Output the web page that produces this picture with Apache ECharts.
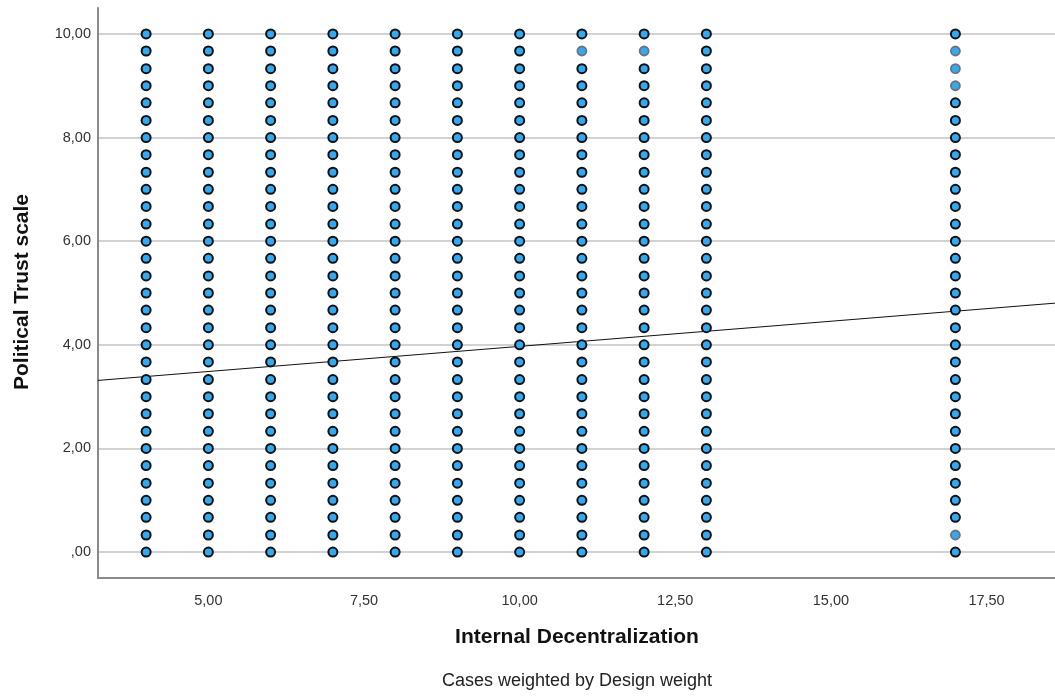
<!DOCTYPE html>
<html>
<head>
<meta charset="utf-8">
<script src="https://cdn.jsdelivr.net/npm/echarts@6/dist/echarts.min.js"></script>
<style>
  html, body { margin: 0; padding: 0; background: #fff; }
  #chart { width: 1055px; height: 700px; }
</style>
</head>
<body>
<div id="chart"></div>
<script>
// Observed values of Internal Decentralization
const decentralization = [4, 5, 6, 7, 8, 9, 10, 11, 12, 13, 17];
// Observed values of the Political Trust scale
const trustLevels = [0, 0.33, 0.67, 1, 1.33, 1.67, 2, 2.33, 2.67, 3, 3.33, 3.67, 4, 4.33, 4.67, 5,
  5.33, 5.67, 6, 6.33, 6.67, 7, 7.33, 7.67, 8, 8.33, 8.67, 9, 9.33, 9.67, 10];
// Sparse combinations (few cases, drawn with a faint outline)
const sparsePoints = [[11, 9.67], [12, 9.67], [17, 9.67], [17, 9.33], [17, 9], [17, 0.33]];
// Fit line: intercept and slope
const fitIntercept = 3.0;
const fitSlope = 0.097;
const yTicks = [0, 2, 4, 6, 8, 10];
const xTicks = [5, 7.5, 10, 12.5, 15, 17.5];

const isSparse = (x, y) => sparsePoints.some(p => p[0] === x && p[1] === y);
const densePts = [], faintPts = [];
decentralization.forEach(x => trustLevels.forEach(y => {
  (isSparse(x, y) ? faintPts : densePts).push([x, y]);
}));

const xMin = 3.227, xMax = 18.6;
const fitLine = [[xMin, fitIntercept + fitSlope * xMin], [xMax, fitIntercept + fitSlope * xMax]];

const fmt = v => {
  const s = v.toFixed(2).replace('.', ',');
  return s.startsWith('0,') ? s.slice(1) : s;
};

const FONT = 'Liberation Sans, Arial, sans-serif';
const chart = echarts.init(document.getElementById('chart'));
chart.setOption({
  animation: false,
  textStyle: { fontFamily: FONT },
  grid: { left: 98, right: 0, top: 8, bottom: 122 },
  xAxis: {
    type: 'value', min: xMin, max: xMax,
    axisLine: { onZero: false, lineStyle: { color: '#8a8a8a', width: 2 } },
    axisTick: { show: false, customValues: xTicks },
    splitLine: { show: false },
    axisLabel: { customValues: xTicks, formatter: fmt, color: '#333', fontSize: 14.5, margin: 15 }
  },
  yAxis: {
    type: 'value', min: -0.5, max: 10.5,
    axisLine: { show: true, onZero: false, lineStyle: { color: '#8a8a8a', width: 2 } },
    axisTick: { show: false, customValues: yTicks },
    splitLine: { show: true, lineStyle: { color: '#d2d2d2', width: 2 } },
    axisLabel: { customValues: yTicks, formatter: fmt, color: '#333', fontSize: 14.5, margin: 7 }
  },
  series: [
    {
      type: 'line', data: fitLine, symbol: 'none', silent: true, z: 1,
      lineStyle: { color: '#111', width: 1 }
    },
    {
      type: 'scatter', data: faintPts, symbolSize: 9, z: 3,
      itemStyle: { color: '#35a9f0', borderColor: '#6e7276', borderWidth: 1.8, opacity: 1 }
    },
    {
      type: 'scatter', data: densePts, symbolSize: 9, z: 3,
      itemStyle: { color: '#31aaf3', borderColor: '#111', borderWidth: 2, opacity: 1 }
    }
  ],
  graphic: [
    {
      type: 'text', x: 22, y: 292, rotation: Math.PI / 2,
      style: { text: 'Political Trust scale', font: 'bold 21px ' + FONT,
        fill: '#111', align: 'center', verticalAlign: 'middle' }
    },
    {
      type: 'text', x: 577, y: 637,
      style: { text: 'Internal Decentralization', font: 'bold 21px ' + FONT,
        fill: '#111', align: 'center', verticalAlign: 'middle' }
    },
    {
      type: 'text', x: 577, y: 681,
      style: { text: 'Cases weighted by Design weight', font: '18px ' + FONT,
        fill: '#222', align: 'center', verticalAlign: 'middle' }
    }
  ]
});
</script>
</body>
</html>
